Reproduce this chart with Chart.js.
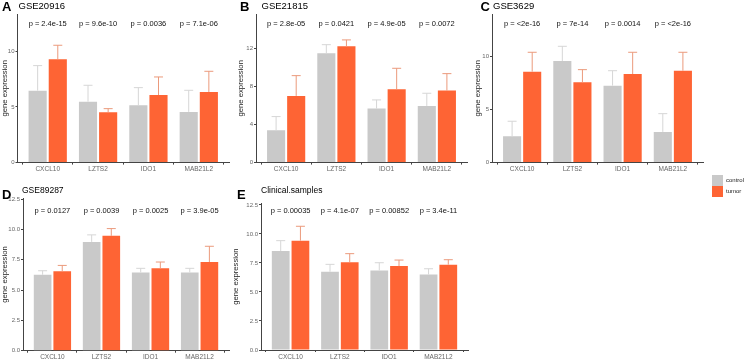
<!DOCTYPE html>
<html>
<head>
<meta charset="utf-8">
<script src="https://cdn.jsdelivr.net/npm/chart.js@4.4.1/dist/chart.umd.min.js"></script>
<style>
  body { margin: 0; background: #fff; width: 744px; height: 359px; overflow: hidden; position: relative; font-family: "Liberation Sans", Arial, sans-serif; }
  canvas { position: absolute; }
  .tag { position: absolute; font-weight: bold; font-size: 13px; line-height: 13px; color: #000; }
  .ttl { position: absolute; font-size: 9.5px; line-height: 10px; color: #000; white-space: nowrap; }
  .key { position: absolute; width: 11px; height: 11px; }
  .keytxt { position: absolute; font-size: 6px; line-height: 11px; color: #222; }
</style>
</head>
<body>
<canvas id="cA" width="235" height="180" style="left:0px;top:0px"></canvas>
<canvas id="cB" width="236" height="180" style="left:236px;top:0px"></canvas>
<canvas id="cC" width="240" height="180" style="left:473px;top:0px"></canvas>
<canvas id="cD" width="231" height="179" style="left:0px;top:180px"></canvas>
<canvas id="cE" width="249" height="179" style="left:231px;top:180px"></canvas>

<div class="tag" style="left:2px;top:0px">A</div>
<div class="ttl" style="left:18.5px;top:0.5px">GSE20916</div>
<div class="tag" style="left:240px;top:0px">B</div>
<div class="ttl" style="left:261.5px;top:0.5px">GSE21815</div>
<div class="tag" style="left:480.5px;top:0px">C</div>
<div class="ttl" style="left:493px;top:0.5px">GSE3629</div>
<div class="tag" style="left:2px;top:188px">D</div>
<div class="ttl" style="left:22px;top:185px;font-size:8.5px">GSE89287</div>
<div class="tag" style="left:237px;top:188px">E</div>
<div class="ttl" style="left:261px;top:185px;font-size:8.5px">Clinical.samples</div>

<div class="key" style="left:712px;top:175px;background:#c9c9c9"></div>
<div class="keytxt" style="left:726px;top:175px">control</div>
<div class="key" style="left:712px;top:186px;background:#fe6434"></div>
<div class="keytxt" style="left:726px;top:186px">tumor</div>

<script>
// genes on the x axis
const genes = ['CXCL10', 'LZTS2', 'IDO1', 'MAB21L2'];

// A - GSE20916
const gse20916Control = [6.47, 5.48, 5.16, 4.56];
const gse20916ControlErr = [8.72, 6.95, 6.74, 6.5];
const gse20916Tumor = [9.29, 4.53, 6.08, 6.35];
const gse20916TumorErr = [10.55, 4.85, 7.7, 8.21];
const gse20916P = ['p = 2.4e-15', 'p = 9.6e-10', 'p = 0.0036', 'p = 7.1e-06'];

// B - GSE21815
const gse21815Control = [3.4, 11.48, 5.67, 5.95];
const gse21815ControlErr = [4.83, 12.38, 6.58, 7.28];
const gse21815Tumor = [7.0, 12.21, 7.7, 7.56];
const gse21815TumorErr = [9.13, 12.88, 9.9, 9.34];
const gse21815P = ['p = 2.8e-05', 'p = 0.0421', 'p = 4.9e-05', 'p = 0.0072'];

// C - GSE3629
const gse3629Control = [2.47, 9.53, 7.22, 2.88];
const gse3629ControlErr = [3.88, 10.91, 8.62, 4.59];
const gse3629Tumor = [8.53, 7.54, 8.31, 8.62];
const gse3629TumorErr = [10.35, 8.72, 10.35, 10.35];
const gse3629P = ['p = <2e-16', 'p = 7e-14', 'p = 0.0014', 'p = <2e-16'];

// D - GSE89287
const gse89287Control = [6.27, 8.98, 6.46, 6.46];
const gse89287ControlErr = [6.6, 9.56, 6.8, 6.8];
const gse89287Tumor = [6.55, 9.48, 6.8, 7.32];
const gse89287TumorErr = [7.04, 10.08, 7.32, 8.62];
const gse89287P = ['p = 0.0127', 'p = 0.0039', 'p = 0.0025', 'p = 3.9e-05'];

// E - Clinical.samples
const clinicalControl = [8.53, 6.74, 6.86, 6.51];
const clinicalControlErr = [9.42, 7.38, 7.52, 7.0];
const clinicalTumor = [9.42, 7.55, 7.23, 7.35];
const clinicalTumorErr = [10.66, 8.3, 7.75, 7.78];
const clinicalP = ['p = 0.00035', 'p = 4.1e-07', 'p = 0.00852', 'p = 3.4e-11'];

// y tick values
const ticksBy5 = [0, 5, 10];
const ticksBy4 = [0, 4, 8, 12];
const ticksBy25 = [0, 2.5, 5, 7.5, 10, 12.5];

Chart.defaults.font.family = '"Liberation Sans", Arial, sans-serif';

const errorBars = {
  id: 'errorBars',
  afterDatasetsDraw(chart) {
    const { ctx } = chart;
    const y = chart.scales.y;
    const x = chart.scales.x;
    chart.data.datasets.forEach((ds, i) => {
      const meta = chart.getDatasetMeta(i);
      meta.data.forEach((bar, j) => {
        const top = y.getPixelForValue(ds.errTop[j]);
        ctx.save();
        ctx.strokeStyle = ds.errColor;
        ctx.lineWidth = 1;
        ctx.beginPath();
        ctx.moveTo(bar.x, bar.y);
        ctx.lineTo(bar.x, top);
        ctx.moveTo(bar.x - 4.5, top);
        ctx.lineTo(bar.x + 4.5, top);
        ctx.stroke();
        ctx.restore();
      });
    });
    // p-values above each gene
    const opts = chart.options.plugins.errorBars;
    ctx.save();
    ctx.fillStyle = '#111';
    ctx.font = '7.5px "Liberation Sans", Arial, sans-serif';
    ctx.textAlign = 'center';
    ctx.textBaseline = 'middle';
    opts.pvals.forEach((p, i) => {
      ctx.fillText(p, x.getPixelForValue(i + 1), opts.pY);
    });
    ctx.restore();
  }
};

const makePanel = (id, control, controlErr, tumor, tumorErr, pvals, yTicks, ymax, lay) => {
  new Chart(document.getElementById(id), {
    type: 'bar',
    data: {
      datasets: [
        {
          label: 'control',
          data: control.map((v, i) => ({ x: i + 1, y: v })),
          errTop: controlErr,
          backgroundColor: '#c9c9c9',
          errColor: '#d6d6d6',
        },
        {
          label: 'tumor',
          data: tumor.map((v, i) => ({ x: i + 1, y: v })),
          errTop: tumorErr,
          backgroundColor: '#fe6434',
          errColor: '#eb9a7c',
        },
      ],
    },
    options: {
      responsive: false,
      animation: false,
      devicePixelRatio: 1,
      categoryPercentage: 0.8,
      barPercentage: 0.9,
      layout: { padding: { left: 0, right: lay.right, top: lay.top, bottom: 0 } },
      plugins: {
        legend: { display: false },
        tooltip: { enabled: false },
        errorBars: { pvals, pY: lay.pY },
      },
      scales: {
        x: {
          type: 'linear',
          min: 0.4,
          max: 4.6,
          offset: false,
          afterBuildTicks: (s) => { s.ticks = genes.map((g, i) => ({ value: i + 1 })); },
          afterFit: (s) => { s.height = lay.xh; },
          ticks: {
            callback: (v) => genes[v - 1],
            autoSkip: false,
            maxRotation: 0,
            padding: 1,
            color: '#666',
            font: { size: 6.5 },
          },
          grid: { drawOnChartArea: false, tickLength: 2, color: '#444' },
          border: { color: '#444', width: 1 },
        },
        y: {
          min: 0,
          max: ymax,
          afterBuildTicks: (s) => { s.ticks = yTicks.map((v) => ({ value: v })); },
          afterFit: (s) => { s.width = lay.yw; },
          ticks: {
            callback: (v) => (yTicks === ticksBy25 ? v.toFixed(1) : String(v)),
            padding: 1,
            color: '#666',
            font: { size: 6 },
          },
          grid: { drawOnChartArea: false, tickLength: 2, color: '#444' },
          border: { color: '#444', width: 1 },
          title: {
            display: true,
            text: 'gene expression',
            color: '#222',
            font: { size: 7.7 },
            padding: { top: 0, bottom: 0 },
          },
        },
      },
    },
    plugins: [errorBars],
  });
};

makePanel('cA', gse20916Control, gse20916ControlErr, gse20916Tumor, gse20916TumorErr, gse20916P, ticksBy5, 13.36,
  { right: 6, top: 14, xh: 17.4, yw: 17.5, pY: 24 });
makePanel('cB', gse21815Control, gse21815ControlErr, gse21815Tumor, gse21815TumorErr, gse21815P, ticksBy4, 15.6,
  { right: 5, top: 14, xh: 17.4, yw: 20, pY: 24 });
makePanel('cC', gse3629Control, gse3629ControlErr, gse3629Tumor, gse3629TumorErr, gse3629P, ticksBy5, 13.94,
  { right: 10, top: 14, xh: 17.4, yw: 19, pY: 23.5 });
makePanel('cD', gse89287Control, gse89287ControlErr, gse89287Tumor, gse89287TumorErr, gse89287P, ticksBy25, 12.58,
  { right: 2, top: 18.3, xh: 8.3, yw: 23, pY: 31 });
makePanel('cE', clinicalControl, clinicalControlErr, clinicalTumor, clinicalTumorErr, clinicalP, ticksBy25, 12.64,
  { right: 12, top: 23.3, xh: 9, yw: 30, pY: 31 });
</script>
</body>
</html>
